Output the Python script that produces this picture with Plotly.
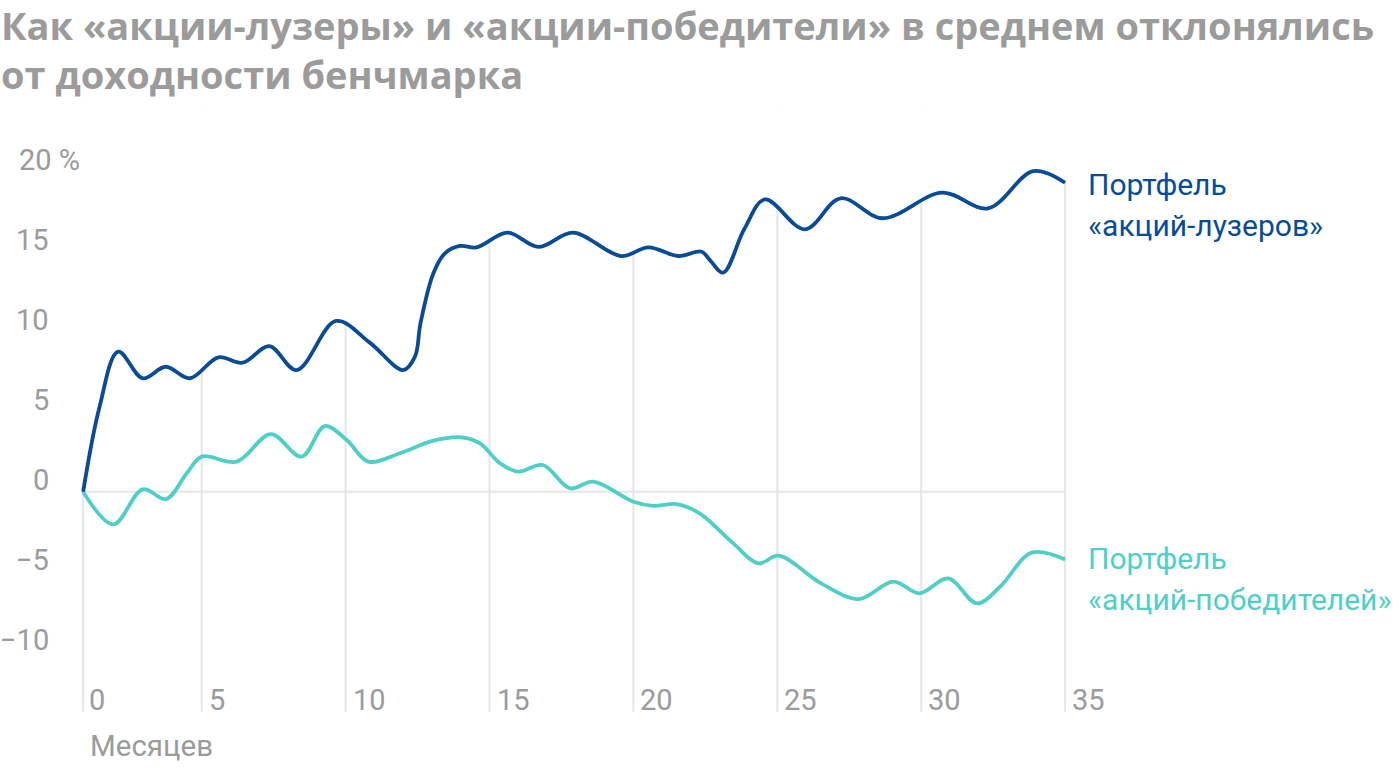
import numpy as np
import plotly.graph_objects as go

# ---------------- data ----------------
losers_x = [0.88, 1.45, 2.10, 2.95, 3.75, 4.59, 5.58, 6.42, 7.35, 8.30, 9.67, 10.85, 12.00, 12.41,
            12.60, 13.05, 13.45, 13.97, 14.55, 15.62, 16.70, 17.90, 19.57, 20.52, 21.56, 22.37,
            22.66, 23.12, 23.85, 24.57, 25.96, 27.20, 28.66, 30.73, 32.32, 33.90, 35.00]
losers_y = [0.0, 5.3, 8.75, 7.09, 7.81, 7.09, 8.40, 8.06, 9.10, 7.60, 10.67, 9.30, 7.60, 8.44,
            10.5, 13.65, 14.9, 15.36, 15.27, 16.19, 15.30, 16.19, 14.73, 15.27, 14.73, 15.00,
            14.48, 13.69, 16.40, 18.27, 16.40, 18.34, 17.09, 18.69, 17.71, 20.04, 19.31]

winners_x = [0.88, 1.93, 2.95, 3.76, 4.48, 5.00, 6.22, 7.40, 8.47, 9.28, 10.04, 10.79, 11.89,
             13.05, 14.03, 14.67, 15.37, 16.00, 16.85, 17.80, 18.60, 20.00, 20.69, 21.50, 22.30,
             23.47, 24.34, 25.05, 26.52, 27.83, 29.03, 29.94, 30.94, 31.94, 32.74, 33.84, 35.00]
winners_y = [0.0, -2.04, 0.15, -0.46, 1.15, 2.19, 1.88, 3.60, 2.19, 4.10, 3.23, 1.88, 2.40,
             3.19, 3.40, 3.02, 1.77, 1.25, 1.67, 0.21, 0.63, -0.63, -0.89, -0.77, -1.35,
             -3.23, -4.48, -4.00, -5.73, -6.71, -5.62, -6.35, -5.42, -6.98, -5.94, -3.81, -4.23]

x_tick_vals = [0.88, 5, 10, 15, 20, 25, 30, 35]
x_tick_text = ["0", "5", "10", "15", "20", "25", "30", "35"]
y_tick_vals = [20, 15, 10, 5, 0, -5, -10]
y_tick_text = ["20 %", "15", "10", "5", "0", "−5", "−10"]

title_lines = ["Как «акции-лузеры» и «акции-победители» в среднем отклонялись",
               "от доходности бенчмарка"]
x_title = "Месяцев"
losers_label = ["Портфель", "«акций-лузеров»"]
winners_label = ["Портфель", "«акций-победителей»"]

# ---------------- styling ----------------
W, H = 1400, 768
BLUE = "#0a4b97"
CYAN = "#4fcfc5"
GRAY = "#9b9b9b"
GRID = "#e6e6e6"
FONT = "Roboto"
TITLE_FONT = "Open Sans"

# axis mapping (full-canvas plot area)
PX_PER_M = 28.78
X0_PX = 57.8
PX_PER_V = 16.0
Y0_PX = 491.7
x_range = [-X0_PX / PX_PER_M, (W - X0_PX) / PX_PER_M]
y_range = [(Y0_PX - H) / PX_PER_V, Y0_PX / PX_PER_V]
y_bottom = (Y0_PX - 711.7) / PX_PER_V
y_top = 24


def pp(x_px, y_px):
    return x_px / W, 1 - y_px / H


fig = go.Figure()

# hidden top boundary for white mask above the blue line
fig.add_trace(go.Scatter(x=losers_x, y=[y_top] * len(losers_x), mode="lines",
                         line=dict(width=0, color="rgba(0,0,0,0)"), hoverinfo="skip",
                         showlegend=False))
# white mask (hides gridlines above the blue line)
fig.add_trace(go.Scatter(x=losers_x, y=losers_y, mode="lines", fill="tonexty",
                         fillcolor="white", line=dict(width=0, shape="spline", smoothing=1.0,
                                                      color="rgba(0,0,0,0)"),
                         hoverinfo="skip", showlegend=False))
# winners
fig.add_trace(go.Scatter(x=winners_x, y=winners_y, mode="lines",
                         line=dict(color=CYAN, width=3.8, shape="spline", smoothing=1.0),
                         showlegend=False))
# losers
fig.add_trace(go.Scatter(x=losers_x, y=losers_y, mode="lines",
                         line=dict(color=BLUE, width=3.8, shape="spline", smoothing=1.0),
                         showlegend=False))

shapes = []
for i, xv in enumerate(x_tick_vals):
    if i == 0:
        top = losers_y[0]
    elif i == len(x_tick_vals) - 1:
        top = losers_y[-1]
    else:
        top = y_top
    shapes.append(dict(type="line", x0=xv, x1=xv, y0=y_bottom, y1=top, xref="x", yref="y",
                       line=dict(color=GRID, width=2), layer="below"))
shapes.append(dict(type="line", x0=losers_x[0], x1=losers_x[-1], y0=0, y1=0, xref="x", yref="y",
                   line=dict(color=GRID, width=2), layer="below"))

ann = []
# title (one two-line text block)
x, y = pp(0, 49)
ann.append(dict(text="<br>".join(title_lines), x=x, y=y, xref="paper", yref="paper",
                xanchor="left", yanchor="middle", align="left", showarrow=False, borderpad=0,
                font=dict(family=TITLE_FONT, size=38, color=GRAY, weight=700)))
# y labels
for v, t in zip(y_tick_vals, y_tick_text):
    cy = Y0_PX - v * PX_PER_V - 11.7
    if t.endswith("%"):
        x, y = pp(17, cy)
        xa = "left"
    else:
        x, y = pp(51, cy)
        xa = "right"
    ann.append(dict(text=t, x=x, y=y, xref="paper", yref="paper", xanchor=xa, yanchor="middle",
                    showarrow=False, font=dict(family=FONT, size=29, color=GRAY)))
# x labels
for i, (v, t) in enumerate(zip(x_tick_vals, x_tick_text)):
    gx = 82 if i == 0 else X0_PX + v * PX_PER_M
    x, y = pp(gx + 5, 700)
    ann.append(dict(text=t, x=x, y=y, xref="paper", yref="paper", xanchor="left", yanchor="middle",
                    showarrow=False, font=dict(family=FONT, size=29, color=GRAY)))
x, y = pp(88, 746)
ann.append(dict(text=x_title, x=x, y=y, xref="paper", yref="paper", xanchor="left",
                yanchor="middle", showarrow=False, font=dict(family=FONT, size=29.5, color=GRAY)))
# series labels
for lines, color, cys in [(losers_label, BLUE, [185, 226]), (winners_label, CYAN, [558, 599])]:
    for txt, cy in zip(lines, cys):
        x, y = pp(1086, cy)
        ann.append(dict(text=txt, x=x, y=y, xref="paper", yref="paper", xanchor="left",
                        yanchor="middle", showarrow=False,
                        font=dict(family=FONT, size=30, color=color)))

fig.update_layout(
    width=W, height=H, autosize=False,
    margin=dict(l=0, r=0, t=0, b=0, pad=0),
    paper_bgcolor="white", plot_bgcolor="white",
    xaxis=dict(range=x_range, visible=False, fixedrange=True),
    yaxis=dict(range=y_range, visible=False, fixedrange=True),
    shapes=shapes, annotations=ann, showlegend=False,
)

fig.write_html("out.html", config={"displayModeBar": False})
